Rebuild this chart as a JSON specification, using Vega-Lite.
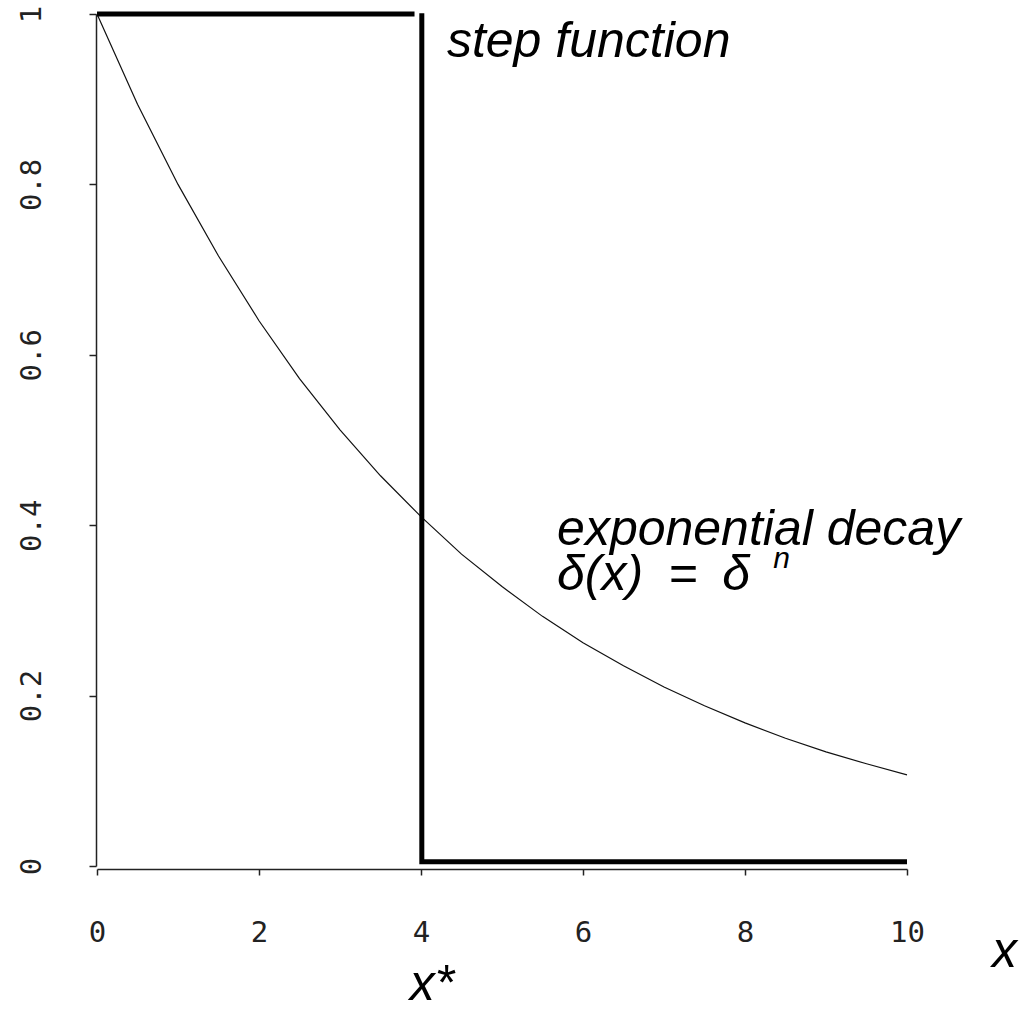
{
  "$schema": "https://vega.github.io/schema/vega-lite/v6.json",
  "width": 810,
  "height": 852,
  "autosize": {"type": "none"},
  "padding": {"left": 97, "top": 14, "right": 114, "bottom": 147},
  "background": "white",
  "config": {"view": {"stroke": null}},
  "datasets": {
    "curve": [
      {"x": 0, "y": 1}, {"x": 0.5, "y": 0.894}, {"x": 1, "y": 0.8}, {"x": 1.5, "y": 0.716},
      {"x": 2, "y": 0.64}, {"x": 2.5, "y": 0.572}, {"x": 3, "y": 0.512}, {"x": 3.5, "y": 0.458},
      {"x": 4, "y": 0.41}, {"x": 4.5, "y": 0.366}, {"x": 5, "y": 0.328}, {"x": 5.5, "y": 0.293},
      {"x": 6, "y": 0.262}, {"x": 6.5, "y": 0.235}, {"x": 7, "y": 0.21}, {"x": 7.5, "y": 0.188},
      {"x": 8, "y": 0.168}, {"x": 8.5, "y": 0.15}, {"x": 9, "y": 0.134}, {"x": 9.5, "y": 0.12},
      {"x": 10, "y": 0.107}
    ],
    "step": [
      {"seg": "a", "order": 1, "x": 0, "y": 1},
      {"seg": "a", "order": 2, "x": 3.92, "y": 1},
      {"seg": "b", "order": 1, "x": 4.01, "y": 1.001},
      {"seg": "b", "order": 2, "x": 4.01, "y": 0.005},
      {"seg": "b", "order": 3, "x": 10, "y": 0.005}
    ],
    "labels": [
      {"x": 4.32, "y": 0.9495, "text": "step function"},
      {"x": 5.68, "y": 0.3768, "text": "exponential decay"},
      {"x": 5.68, "y": 0.324, "text": "δ(x)\u2002=\u2002δ"},
      {"x": 11.05, "y": -0.1185, "text": "x"},
      {"x": 3.86, "y": -0.157, "text": "x*"}
    ],
    "sup": [
      {"x": 8.35, "y": 0.35, "text": "n"}
    ]
  },
  "layer": [
    {
      "data": {"name": "curve"},
      "mark": {"type": "line", "color": "#111", "strokeWidth": 1.2, "clip": false},
      "encoding": {
        "x": {
          "field": "x", "type": "quantitative",
          "scale": {"domain": [0, 10], "nice": false, "zero": false},
          "axis": {
            "values": [0, 2, 4, 6, 8, 10], "format": "d", "title": null, "grid": false,
            "offset": 3, "domainColor": "#222", "domainWidth": 1.5,
            "tickColor": "#222", "tickWidth": 1.5, "tickSize": 6,
            "labelFont": "DejaVu Sans Mono", "labelFontSize": 29, "labelColor": "#222",
            "labelPadding": 43, "labelFlush": false
          }
        },
        "y": {
          "field": "y", "type": "quantitative",
          "scale": {"domain": [0, 1], "nice": false, "zero": false},
          "axis": {
            "values": [0, 0.2, 0.4, 0.6, 0.8, 1], "title": null, "grid": false,
            "offset": 1, "domainColor": "#222", "domainWidth": 1.5,
            "tickColor": "#222", "tickWidth": 1.5, "tickSize": 7,
            "labelFont": "DejaVu Sans Mono", "labelFontSize": 29, "labelColor": "#222",
            "labelAngle": -90, "labelAlign": "center", "labelBaseline": "bottom",
            "labelPadding": 43, "labelFlush": false,
            "labelExpr": "datum.value == 0 ? '0' : datum.value == 1 ? '1' : format(datum.value, '.1f')"
          }
        }
      }
    },
    {
      "data": {"name": "step"},
      "mark": {"type": "line", "color": "#000", "strokeWidth": 5, "strokeCap": "butt", "strokeJoin": "miter", "clip": false},
      "encoding": {
        "x": {"field": "x", "type": "quantitative"},
        "y": {"field": "y", "type": "quantitative"},
        "detail": {"field": "seg"},
        "order": {"field": "order"}
      }
    },
    {
      "data": {"name": "labels"},
      "mark": {"type": "text", "font": "Liberation Sans", "fontStyle": "italic", "fontSize": 50, "align": "left", "baseline": "alphabetic", "color": "#000", "clip": false},
      "encoding": {
        "x": {"field": "x", "type": "quantitative"},
        "y": {"field": "y", "type": "quantitative"},
        "text": {"field": "text"}
      }
    },
    {
      "data": {"name": "sup"},
      "mark": {"type": "text", "font": "Liberation Sans", "fontStyle": "italic", "fontSize": 30, "align": "left", "baseline": "alphabetic", "color": "#000", "clip": false},
      "encoding": {
        "x": {"field": "x", "type": "quantitative"},
        "y": {"field": "y", "type": "quantitative"},
        "text": {"field": "text"}
      }
    }
  ]
}
